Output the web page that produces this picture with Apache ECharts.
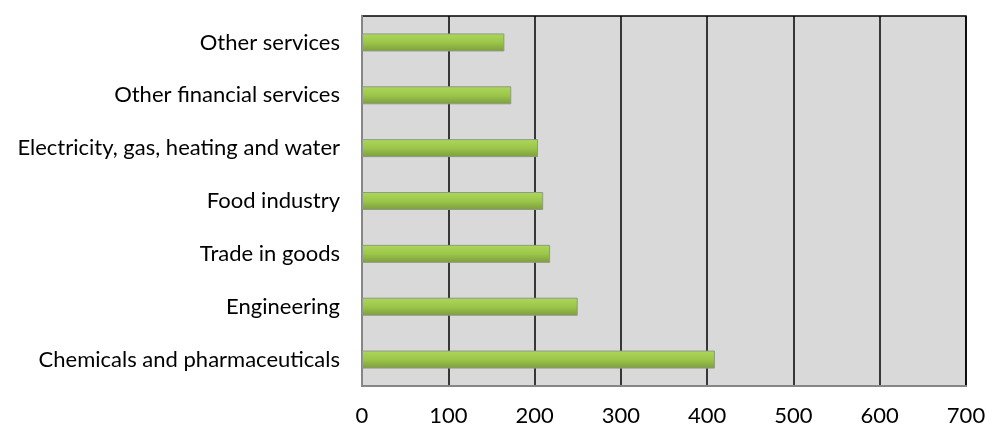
<!DOCTYPE html>
<html>
<head>
<meta charset="utf-8">
<script src="https://cdn.jsdelivr.net/npm/echarts@6/dist/echarts.min.js"></script>
<style>
  html, body { margin: 0; padding: 0; background: #fff; }
  #chart { width: 985px; height: 426px; }
</style>
</head>
<body>
<div id="chart"></div>
<script>
// Sectors, listed bottom to top as drawn on the category axis
const sectors = [
  'Chemicals and pharmaceuticals',
  'Engineering',
  'Trade in goods',
  'Food industry',
  'Electricity, gas, heating and water',
  'Other financial services',
  'Other services'
];
const values = [409, 250, 218, 210, 204, 173, 165];
const xTicks = { min: 0, max: 700, interval: 100 };

const chart = echarts.init(document.getElementById('chart'), null, { renderer: 'canvas' });
chart.setOption({
  animation: false,
  textStyle: { fontFamily: 'Lato' },
  grid: {
    left: 362, right: 19, top: 16, bottom: 40,
    outerBoundsMode: 'none',
    containLabel: false,
    show: true,
    backgroundColor: '#d9d9d9',
    borderColor: '#000',
    borderWidth: 1.5
  },
  xAxis: {
    type: 'value',
    min: xTicks.min, max: xTicks.max, interval: xTicks.interval,
    axisLine: { show: true, lineStyle: { color: '#868686', width: 2 } },
    axisTick: { show: false },
    splitLine: { show: true, lineStyle: { color: '#000', width: 1.5 } },
    axisLabel: { color: '#000', fontSize: 22, margin: 19, fontFamily: 'Lato' }
  },
  yAxis: {
    type: 'category',
    data: sectors,
    axisLine: { show: true, lineStyle: { color: '#868686', width: 2 } },
    axisTick: { show: false },
    splitLine: { show: false },
    axisLabel: { color: '#000', fontSize: 22, margin: 22, fontFamily: 'Lato' }
  },
  series: [{
    type: 'bar',
    data: values,
    barWidth: 18,
    itemStyle: {
      color: new echarts.graphic.LinearGradient(0, 0, 0, 1, [
        { offset: 0, color: '#acd859' },
        { offset: 0.5, color: '#9cc64a' },
        { offset: 1, color: '#7c9c3c' }
      ]),
      borderColor: '#8f9a86',
      borderWidth: 1
    }
  }]
});
</script>
</body>
</html>
